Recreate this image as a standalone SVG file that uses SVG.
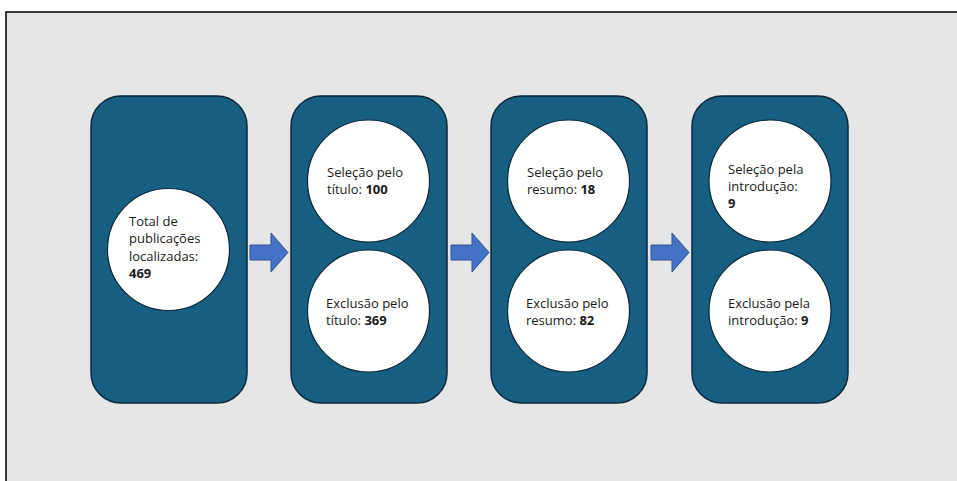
<svg xmlns="http://www.w3.org/2000/svg" width="957" height="481" viewBox="0 0 957 481">
<style>
.box{fill:#175f82;stroke:#0d2838;stroke-width:1.5}
.c{fill:#ffffff;stroke:#0d2838;stroke-width:1.2}
.t{font-family:"Open Sans","Liberation Sans",sans-serif;font-size:13px;fill:#1a1a1a}
.b{font-weight:bold}
.arr{fill:#4472c4;stroke:#2f528f;stroke-width:1}
</style>
<rect x="0" y="0" width="957" height="481" fill="#ffffff"/>
<rect x="6" y="12" width="960" height="480" fill="#e6e6e6" stroke="#000000" stroke-width="1.5"/>
<g id="node1">
<rect class="box" x="91" y="96" width="156" height="307" rx="30"/>
<circle class="c" cx="168.5" cy="249.5" r="61"/>
<text class="t" x="129" y="226">Total de</text>
<text class="t" x="129" y="243">publicações</text>
<text class="t" x="129" y="261">localizadas:</text>
<text class="t b" x="129" y="278">469</text>
</g>
<g id="node2">
<rect class="box" x="291" y="96" width="156" height="307" rx="30"/>
<circle class="c" cx="368.5" cy="181" r="61"/>
<circle class="c" cx="368.5" cy="311" r="61"/>
<text class="t" x="327" y="177">Seleção pelo</text>
<text class="t" x="327" y="194">título: <tspan class="b">100</tspan></text>
<text class="t" x="326" y="308">Exclusão pelo</text>
<text class="t" x="326" y="325">título: <tspan class="b">369</tspan></text>
</g>
<g id="node3">
<rect class="box" x="491" y="96" width="156" height="307" rx="30"/>
<circle class="c" cx="568.5" cy="181" r="61"/>
<circle class="c" cx="568.5" cy="311" r="61"/>
<text class="t" x="527" y="177">Seleção pelo</text>
<text class="t" x="527" y="194">resumo: <tspan class="b">18</tspan></text>
<text class="t" x="526" y="308">Exclusão pelo</text>
<text class="t" x="526" y="325">resumo: <tspan class="b">82</tspan></text>
</g>
<g id="node4">
<rect class="box" x="692" y="96" width="156" height="307" rx="30"/>
<circle class="c" cx="770" cy="181" r="61"/>
<circle class="c" cx="770" cy="311" r="61"/>
<text class="t" x="728" y="174">Seleção pela</text>
<text class="t" x="728" y="191">introdução:</text>
<text class="t b" x="728" y="208">9</text>
<text class="t" x="728" y="308">Exclusão pela</text>
<text class="t" x="728" y="325">introdução: <tspan class="b">9</tspan></text>
</g>
<g id="connectors">
<path class="arr" d="M250,245 H271 V233 L288,252.5 L271,272 V260 H250 Z"/>
<path class="arr" d="M451,245 H472 V233 L489,252.5 L472,272 V260 H451 Z"/>
<path class="arr" d="M651,245 H672 V233 L689,252.5 L672,272 V260 H651 Z"/>
</g>
</svg>
